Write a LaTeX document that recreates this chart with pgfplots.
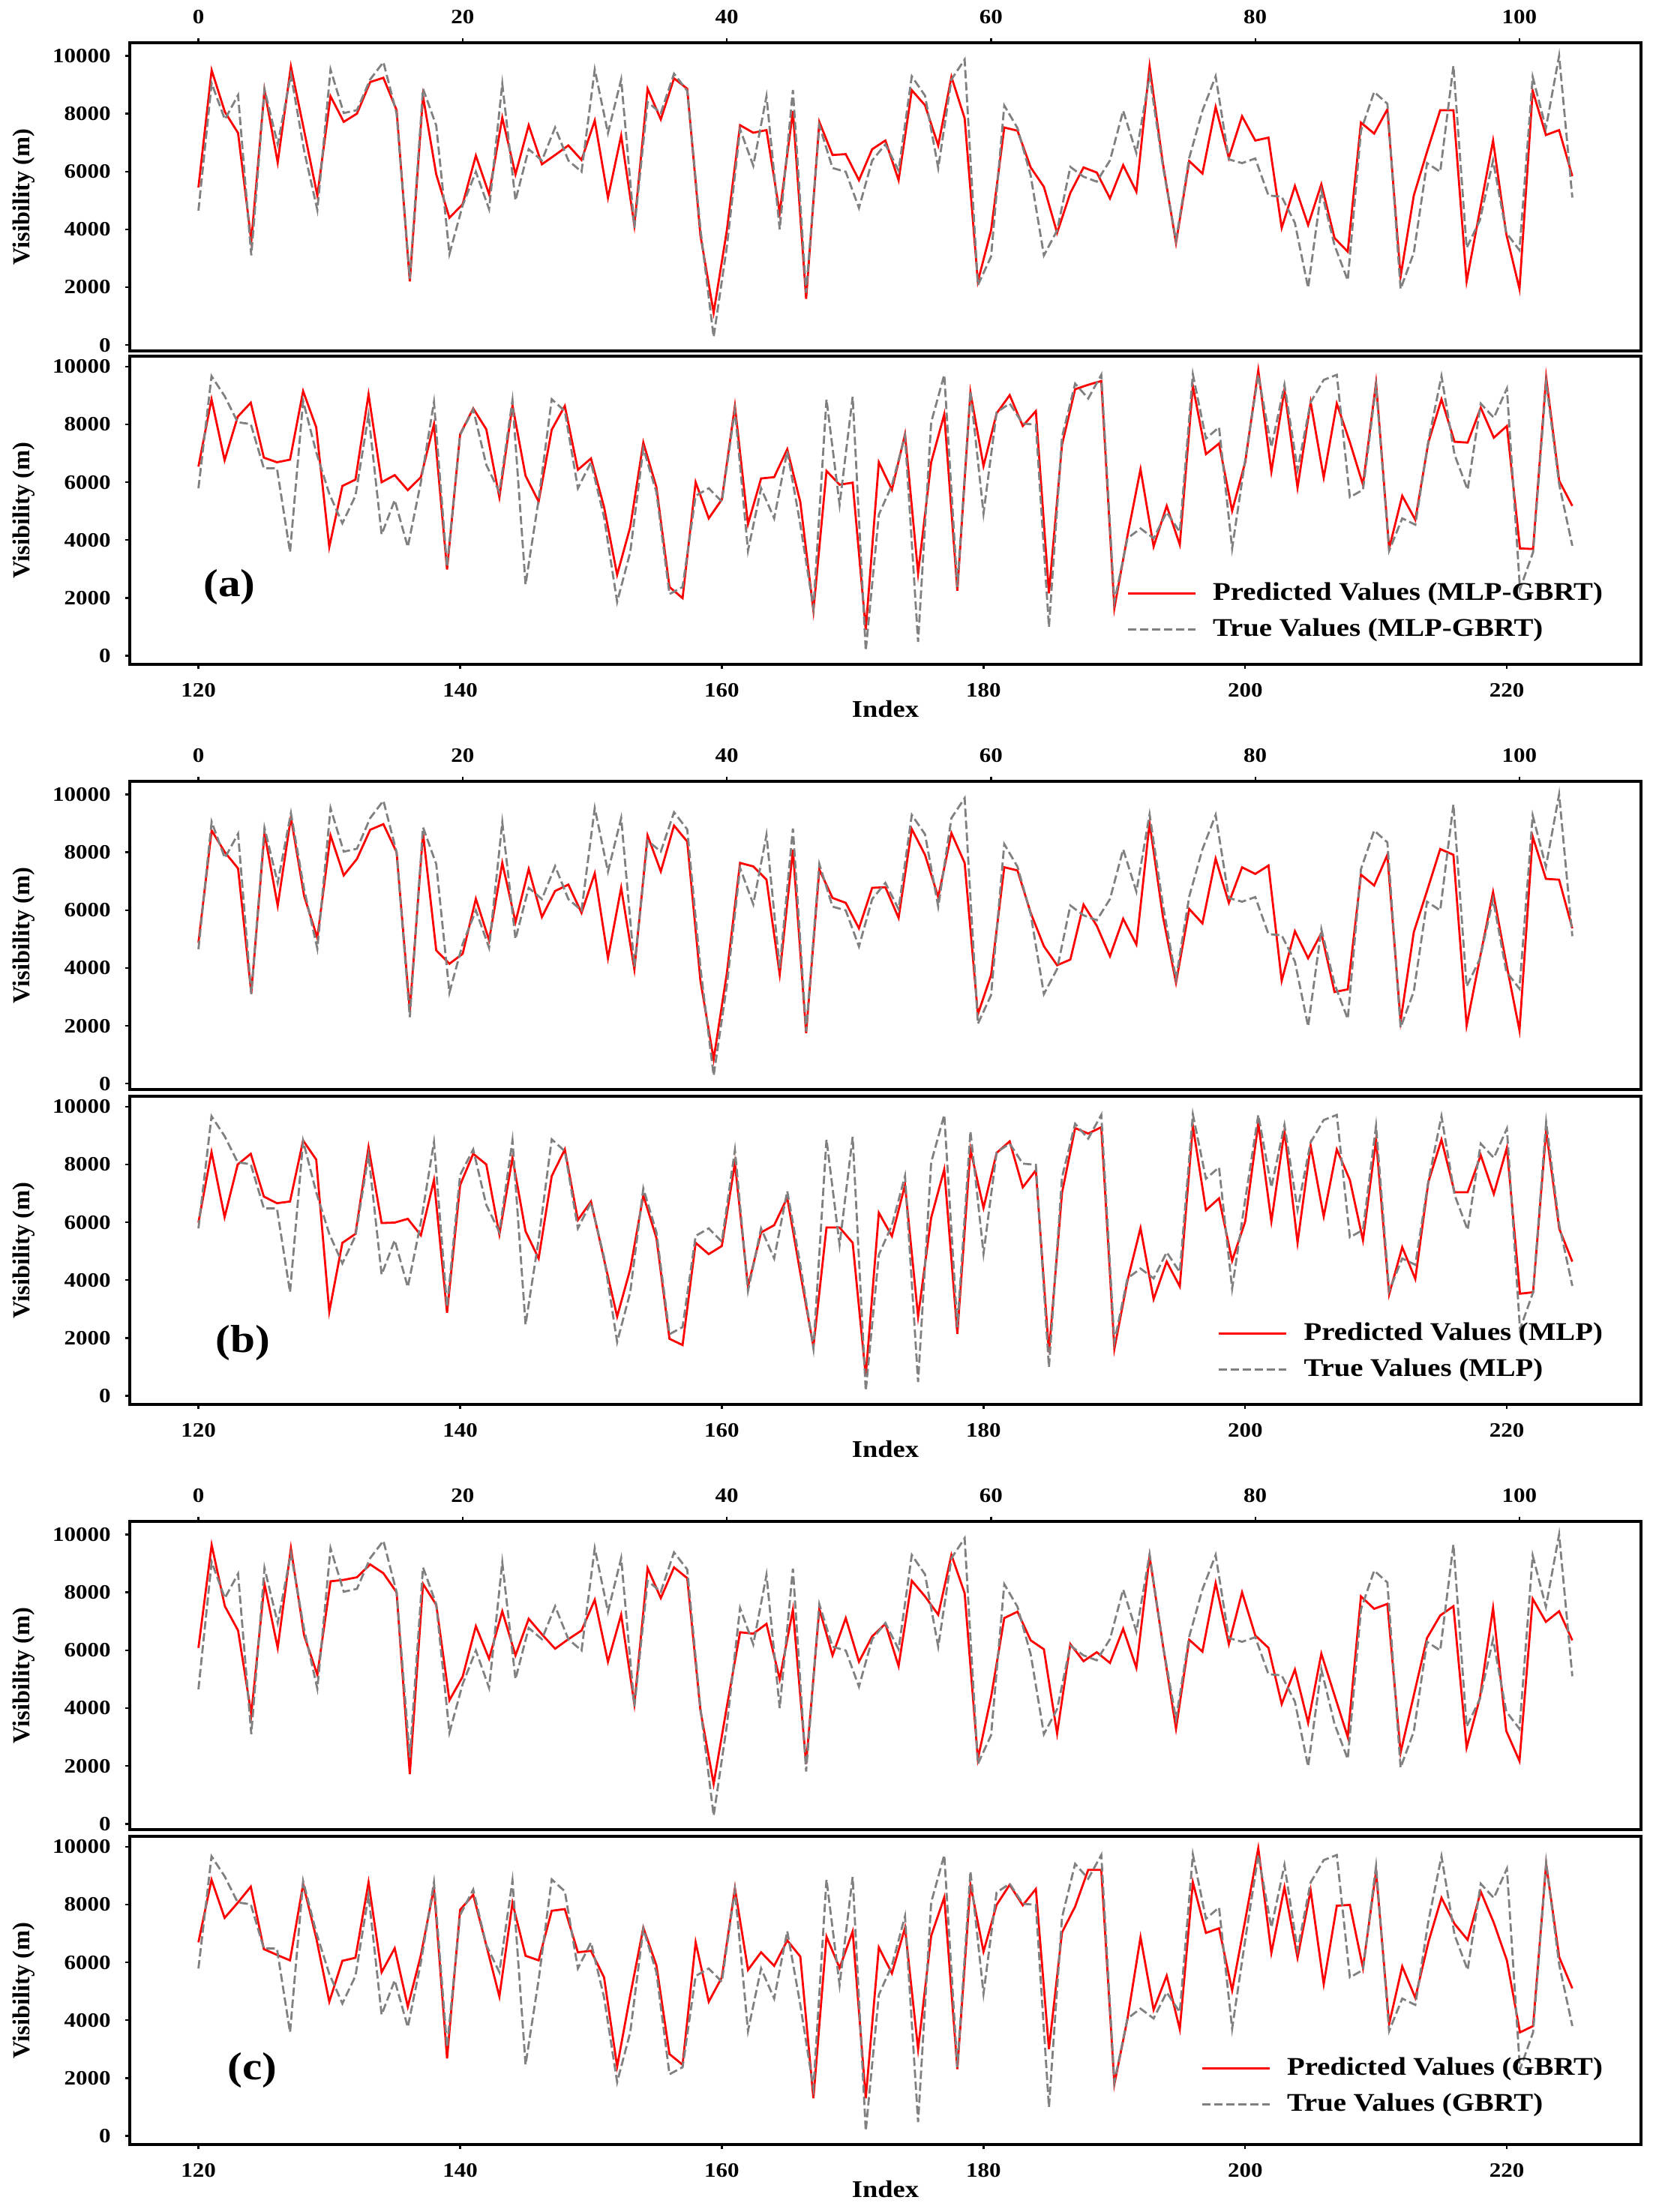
\documentclass[border=0pt]{standalone}
\usepackage{fontspec}
\setmainfont{Liberation Serif}
\newfontfamily\wide[FakeStretch=1.14]{Liberation Serif}
\usepackage{pgfplots}
\usepackage{pgfplotstable}
\pgfplotsset{compat=1.18}

\pgfplotstableread{
idx true a b c
0 4650 5450 4870 6080
1 9050 9500 8750 9640
2 7800 8060 8000 7520
3 8640 7330 7440 6680
4 3100 3600 3130 3790
5 8840 8810 8660 8290
6 6940 6310 6150 6080
7 9350 9630 9205 9525
8 6720 7410 6490 6510
9 4670 5170 5040 5150
10 9525 8600 8580 8380
11 8020 7715 7200 8430
12 8120 8000 7770 8520
13 9180 9090 8775 8965
14 9780 9240 8970 8660
15 8000 8120 8000 8000
16 2300 2200 2525 1720
17 8860 8600 8660 8290
18 7590 5900 4610 7570
19 3150 4400 4146 4270
20 4830 4870 4490 5085
21 5990 6550 6390 6830
22 4700 5215 4960 5705
23 9030 7860 7630 7345
24 5000 5900 5585 5820
25 6770 7600 7420 7085
26 6380 6250 5760 6550
27 7520 6570 6660 6050
28 6380 6900 6880 6380
29 5990 6400 5905 6680
30 9525 7760 7270 7740
31 7330 5090 4335 5600
32 9180 7240 6770 7225
33 4050 4140 3950 4140
34 8400 8860 8580 8835
35 8020 7800 7335 7800
36 9380 9220 8920 8860
37 8790 8860 8370 8490
38 4000 3790 3560 3920
39 280 1120 845 1380
40 3400 3965 3820 4050
41 7460 7600 7630 6620
42 6200 7340 7510 6570
43 8600 7430 7050 6910
44 4000 4570 3775 5000
45 8820 8085 8085 7400
46 1810 1600 1750 2070
47 7590 7715 7400 7430
48 6120 6570 6420 5820
49 5990 6600 6250 7110
50 4740 5700 5370 5600
51 6380 6770 6770 6480
52 6940 7070 6790 6910
53 6030 5700 5730 5450
54 9290 8810 8800 8400
55 8620 8290 7910 7860
56 6120 6900 6450 7225
57 9180 9270 8660 9290
58 9870 7840 7630 7970
59 2070 2200 2400 2240
60 3060 3965 3750 4380
61 8280 7520 7480 7110
62 7500 7410 7370 7330
63 5860 6140 5905 6340
64 3100 5470 4750 6030
65 3965 3880 4095 3120
66 6160 5260 4290 6210
67 5820 6140 6190 5620
68 5650 5965 5460 5930
69 6380 5070 4405 5560
70 8100 6220 5700 6740
71 6640 5300 4810 5390
72 9310 9640 9010 9240
73 6200 6300 5800 6200
74 3620 3530 3490 3290
75 6470 6360 6040 6360
76 8100 5930 5540 5950
77 9290 8230 7780 8320
78 6420 6470 6250 6210
79 6290 7910 7480 8000
80 6450 7070 7250 6510
81 5170 7170 7540 6080
82 5130 4050 3560 4140
83 4220 5500 5270 5330
84 1980 4150 4335 3490
85 5340 5560 5200 5880
86 3450 3700 3170 4440
87 2240 3230 3260 3000
88 7410 7690 7225 7860
89 8750 7310 6850 7430
90 8340 8150 7910 7600
91 1940 2370 2165 2460
92 3190 5170 5240 4440
93 6290 6680 6660 6420
94 5990 8120 8110 7200
95 9650 8120 7910 7520
96 3360 2200 2010 2630
97 4310 4650 4335 4350
98 6380 7070 6620 7460
99 3880 3840 4160 3210
100 3280 1940 1840 2170
101 9270 8790 8540 7775
102 7500 7260 7080 6980
103 10000 7430 7050 7345
104 5100 5840 5370 6340
}\toptab

\pgfplotstableread{
idx true a b c
120 5790 6540 5990 6695
121 9670 8870 8430 8860
122 8980 6760 6180 7540
123 8075 8265 8000 8060
124 8010 8750 8370 8620
125 6480 6850 6890 6460
126 6480 6690 6660 6260
127 3580 6780 6720 6070
128 8810 9150 8830 8710
129 7040 7900 8170 6850
130 5600 3760 2910 4640
131 4580 5870 5290 6055
132 5530 6090 5600 6160
133 8330 9040 8600 8770
134 4190 6000 5975 5660
135 5380 6245 5990 6490
136 3760 5725 6120 4470
137 6000 6175 5550 6250
138 8770 8005 7460 8580
139 3070 2980 2870 2680
140 7640 7660 7290 7820
141 8520 8550 8370 8340
142 6600 7830 8000 6590
143 5660 5480 5580 4820
144 8830 8660 8230 8060
145 2460 6220 5690 6230
146 5400 5330 4750 6070
147 8870 7815 7600 7785
148 8460 8636 8520 7845
149 5790 6430 6080 6350
150 6690 6820 6720 6400
151 4790 5140 4710 5480
152 1860 2800 2740 2400
153 3580 4450 4380 4860
154 7170 7370 6930 7200
155 5660 5830 5460 5900
156 2130 2375 1970 2830
157 2375 1990 1755 2460
158 5530 6000 5290 6695
159 5790 4750 4900 4640
160 5330 5400 5180 5480
161 8500 8636 8050 8560
162 3630 4550 3780 5740
163 5790 6130 5650 6350
164 4750 6175 5900 5880
165 7080 7140 6850 6760
166 4530 5310 4240 6200
167 1640 1555 1700 1300
168 8870 6390 5820 6890
169 5220 5915 5820 5810
170 8955 5985 5290 7070
171 170 900 685 1300
172 4880 6690 6330 6520
173 5900 5740 5520 5620
174 7600 7660 7290 7200
175 475 2850 2740 3000
176 8075 6690 6160 6920
177 9715 8350 7830 8250
178 2375 2245 2140 2310
179 9150 9110 8520 8685
180 4920 6560 6500 6375
181 8420 8380 8400 7990
182 8720 9010 8800 8685
183 8030 7945 7210 7975
184 7990 8460 7800 8540
185 990 2160 1500 3000
186 7560 7300 7020 7040
187 9410 9215 9260 7930
188 8895 9370 9070 9200
189 9715 9500 9290 9200
190 1860 1640 1625 1790
191 4060 4145 3980 4040
192 4400 6450 5800 6870
193 4060 3775 3340 4360
194 4965 5180 4640 5540
195 4275 3840 3780 3690
196 9730 9325 9330 8770
197 7510 6970 6420 7020
198 7900 7340 6830 7180
199 3710 5010 4670 5030
200 6780 6690 6030 7460
201 9715 9870 9430 9950
202 7210 6365 6030 6330
203 9370 9200 9160 8600
204 6430 5810 5290 6160
205 8765 8765 8650 8495
206 9540 6160 6200 5250
207 9715 8720 8520 7960
208 5480 7380 7460 7990
209 5740 5915 5380 5810
210 9330 9440 8860 9145
211 3630 3710 3510 3870
212 4750 5530 5140 5860
213 4530 4700 4040 4775
214 7430 7380 7400 6700
215 9670 8870 8860 8235
216 6950 7400 7040 7330
217 5740 7370 7040 6780
218 8720 8575 8320 8450
219 8230 7540 6980 7370
220 9240 7945 8580 6070
221 2300 3710 3530 3580
222 3580 3690 3580 3800
223 9460 9630 9180 9400
224 5915 6045 5780 6180
225 3800 5180 4640 5100
}\bottab

\pgfplotsset{
  vis/.style={
    scale only axis, width=503.75pt, height=102.75pt,
    axis line style={line width=0.8pt},
    tick align=outside,
    major tick length=1.6pt,
    every tick/.style={black, line width=0.6pt},
    scaled y ticks=false, scaled x ticks=false,
    ytick={0,2000,4000,6000,8000,10000},
    yticklabels={0,2000,4000,6000,8000,10000},
    ytick pos=left,
    yticklabel style={font=\wide\bfseries\fontsize{6.8}{8}\selectfont, xshift=-1.2pt},
    xticklabel style={font=\wide\bfseries\fontsize{6.8}{8}\selectfont},
    ylabel={Visibility (m)},
    ylabel style={font=\bfseries\fontsize{8.1}{9.7}\selectfont, at={(axis description cs:-0.07,0.5)}, anchor=center},
    xlabel style={font=\wide\bfseries\fontsize{8}{9.6}\selectfont},
    legend cell align=left,
    legend image code/.code={\draw[#1] (0pt,0pt) -- (22.5pt,0pt);},
    legend style={draw=none, fill=none, inner sep=0pt, row sep=1.6pt,
      font=\wide\bfseries\fontsize{8.5}{10}\selectfont,
      nodes={inner sep=1.5pt},
      /tikz/every odd column/.append style={column sep=4pt}},
  },
  toppanel/.style={vis,
    xmin=-5.2, xmax=109.2, ymin=-200, ymax=10450,
    xtick={0,20,40,60,80,100},
    xticklabels={0,20,40,60,80,100},
    xtick pos=top, xticklabel pos=top,
    xticklabel style={yshift=1.2pt},
  },
  botpanel/.style={vis,
    xmin=114.75, xmax=230.25, ymin=-300, ymax=10360,
    xtick={120,140,160,180,200,220},
    xticklabels={120,140,160,180,200,220},
    xtick pos=bottom, xticklabel pos=bottom,
    xticklabel style={yshift=-1.2pt},
    xlabel={Index},
    xlabel style={at={(axis description cs:0.5,-0.145)}, anchor=center},
  },
  predline/.style={red, line width=0.7pt},
  trueline/.style={gray, line width=0.7pt, dash pattern=on 2.8pt off 1.2pt},
}

\begin{document}
\begin{tikzpicture}
\useasboundingbox (0,0) rectangle (553.75pt,-737.5pt);

% ---------- (a) ----------
\begin{axis}[toppanel, at={(43.25pt,-14.25pt)}, anchor=north west]
\addplot[predline] table[x=idx,y=a]{\toptab};
\addplot[trueline] table[x=idx,y=true]{\toptab};
\end{axis}
\begin{axis}[botpanel, at={(43.25pt,-118.75pt)}, anchor=north west,
  legend style={at={(axis description cs:0.978,0.06)}, anchor=south east}]
\addplot[predline] table[x=idx,y=a]{\bottab};
\addplot[trueline] table[x=idx,y=true]{\bottab};
\legend{Predicted Values (MLP-GBRT), True Values (MLP-GBRT)}
\node[font=\wide\bfseries\fontsize{13}{15}\selectfont] at (rel axis cs:0.066,0.25) {(a)};
\end{axis}

% ---------- (b) ----------
\begin{axis}[toppanel, at={(43.25pt,-260.5pt)}, anchor=north west]
\addplot[predline] table[x=idx,y=b]{\toptab};
\addplot[trueline] table[x=idx,y=true]{\toptab};
\end{axis}
\begin{axis}[botpanel, at={(43.25pt,-365.5pt)}, anchor=north west,
  legend style={at={(axis description cs:0.978,0.06)}, anchor=south east}]
\addplot[predline] table[x=idx,y=b]{\bottab};
\addplot[trueline] table[x=idx,y=true]{\bottab};
\legend{Predicted Values (MLP), True Values (MLP)}
\node[font=\wide\bfseries\fontsize{13}{15}\selectfont] at (rel axis cs:0.075,0.2) {(b)};
\end{axis}

% ---------- (c) ----------
\begin{axis}[toppanel, at={(43.25pt,-507.25pt)}, anchor=north west]
\addplot[predline] table[x=idx,y=c]{\toptab};
\addplot[trueline] table[x=idx,y=true]{\toptab};
\end{axis}
\begin{axis}[botpanel, at={(43.25pt,-612.25pt)}, anchor=north west,
  legend style={at={(axis description cs:0.978,0.078)}, anchor=south east}]
\addplot[predline] table[x=idx,y=c]{\bottab};
\addplot[trueline] table[x=idx,y=true]{\bottab};
\legend{Predicted Values (GBRT), True Values (GBRT)}
\node[font=\wide\bfseries\fontsize{13}{15}\selectfont] at (rel axis cs:0.081,0.24) {(c)};
\end{axis}
\end{tikzpicture}
\end{document}
